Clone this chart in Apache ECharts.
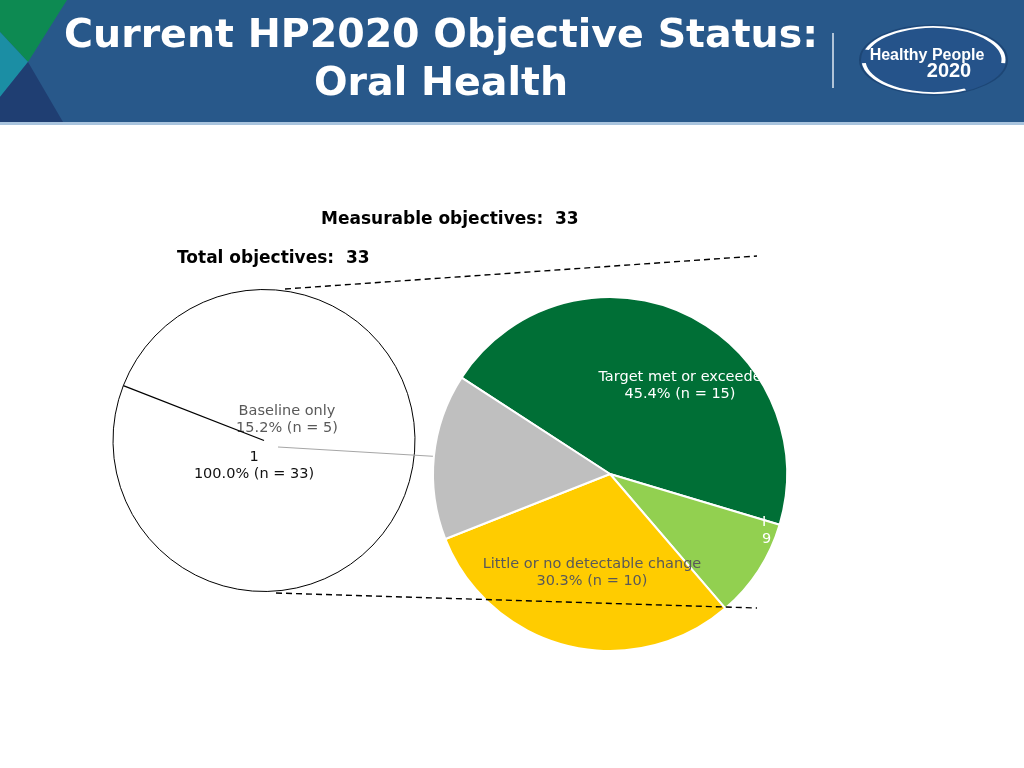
<!DOCTYPE html>
<html>
<head>
<meta charset="utf-8">
<script src="https://cdn.jsdelivr.net/npm/echarts@6/dist/echarts.min.js"></script>
<style>
html,body{margin:0;padding:0;background:#fff;}
#chart{width:1024px;height:768px;}
</style>
</head>
<body>
<div id="chart"></div>
<script>
// ---- data ----
const titleLines = ['Current HP2020 Objective Status:', 'Oral Health'];
const categories = ['Target met or exceeded', 'Improved', 'Little or no detectable change', 'Baseline only'];
const counts = [15, 3, 10, 5];
const percentLabels = ['45.4', '9.1', '30.3', '15.2'];
const totalName = '1';
const totalCount = 33;
const totalPercent = '100.0';
const measurableObjectives = 33;
const totalObjectives = 33;

// ---- styles / layout ----
const sliceColors = ['#006f36', '#92d050', '#ffcc00', '#bfbfbf'];
const labelColors = ['#ffffff', '#ffffff', '#595959', '#595959'];
const FONT = '"DejaVu Sans", Verdana, sans-serif';
const leftCenter = [264, 440.5], leftRadius = 151, leftStart = 158.7;
const rightCenter = [610, 474], rightRadius = 177, rightStart = 147;
const labelAnchors = [[680, 385.5], [762, 531], [592, 573], [287, 420]];
const labelLineEnd = [278, 447];
const totalLabelAnchor = [254, 466];

const chart = echarts.init(document.getElementById('chart'));

const rightData = categories.map((c, i) => {
  const item = {
    name: c,
    value: counts[i],
    itemStyle: { color: sliceColors[i] },
    label: { color: labelColors[i] }
  };
  if (i === 0) Object.assign(item.label, { width: 167, overflow: 'truncate', ellipsis: '' });
  if (i === 1) Object.assign(item.label, { width: 13, overflow: 'truncate', ellipsis: '' });
  if (i === 3) {
    item.label.position = 'outside';
    item.label.overflow = 'none';
    item.labelLine = { show: true, length: 156, length2: 0, lineStyle: { color: '#a6a6a6', width: 1 } };
  }
  return item;
});

const rad = leftStart * Math.PI / 180;
const radialEnd = [leftCenter[0] + leftRadius * Math.cos(rad), leftCenter[1] - leftRadius * Math.sin(rad)];

const option = {
  backgroundColor: '#ffffff',
  animation: false,
  graphic: [
    { type: 'rect', shape: { x: 0, y: 0, width: 1024, height: 122 }, style: { fill: '#28588a' }, z: 1 },
    { type: 'rect', shape: { x: 0, y: 122, width: 1024, height: 3 }, style: { fill: '#a9c4de' }, z: 1 },
    { type: 'polygon', shape: { points: [[0, 0], [67, 0], [28, 62], [0, 32]] }, style: { fill: '#0d8a52' }, z: 2 },
    { type: 'polygon', shape: { points: [[0, 32], [28, 62], [0, 97]] }, style: { fill: '#1b8ea4' }, z: 2 },
    { type: 'polygon', shape: { points: [[0, 97], [28, 62], [63, 122], [0, 122]] }, style: { fill: '#1f3e72' }, z: 2 },
    { type: 'text', z: 3, style: { text: titleLines[0], x: 441, y: 37, textAlign: 'center', textVerticalAlign: 'middle', fill: '#ffffff', font: 'bold 39.5px ' + FONT } },
    { type: 'text', z: 3, style: { text: titleLines[1], x: 441, y: 85, textAlign: 'center', textVerticalAlign: 'middle', fill: '#ffffff', font: 'bold 39.5px ' + FONT } },
    { type: 'line', z: 3, shape: { x1: 833, y1: 33, x2: 833, y2: 88 }, style: { stroke: '#dfe8f2', lineWidth: 1.5 } },
    { type: 'circle', z: 3, x: 933.5, y: 60, scaleX: 1, scaleY: 35 / 73.5, shape: { cx: 0, cy: 0, r: 73.5 }, style: { fill: '#25538a', stroke: '#1d4675', lineWidth: 2 } },
    { type: 'arc', z: 4, x: 933.5, y: 60, scaleX: 1, scaleY: 33 / 70, shape: { cx: 0, cy: 0, r: 70, startAngle: Math.PI * 1.1, endAngle: Math.PI * 2.03, clockwise: true }, style: { stroke: '#ffffff', lineWidth: 4, fill: null } },
    { type: 'arc', z: 4, x: 933.5, y: 60, scaleX: 1, scaleY: 33 / 70, shape: { cx: 0, cy: 0, r: 70, startAngle: Math.PI * 0.35, endAngle: Math.PI * 0.97, clockwise: true }, style: { stroke: '#ffffff', lineWidth: 4, fill: null } },
    { type: 'text', z: 5, style: { text: 'Healthy People', x: 927, y: 56, textAlign: 'center', textVerticalAlign: 'middle', fill: '#ffffff', font: 'bold 16px "Liberation Sans", Arial, sans-serif' } },
    { type: 'text', z: 5, style: { text: '2020', x: 949, y: 71, textAlign: 'center', textVerticalAlign: 'middle', fill: '#ffffff', font: 'bold 20px "Liberation Sans", Arial, sans-serif' } },
    { type: 'text', z: 5, style: { text: 'Measurable objectives:  ' + measurableObjectives, x: 321, y: 220, textAlign: 'left', textVerticalAlign: 'middle', fill: '#000000', font: 'bold 17px ' + FONT } },
    { type: 'text', z: 5, style: { text: 'Total objectives:  ' + totalObjectives, x: 177, y: 259, textAlign: 'left', textVerticalAlign: 'middle', fill: '#000000', font: 'bold 17px ' + FONT } },
    { type: 'line', z: 50, shape: { x1: 285, y1: 289, x2: 757, y2: 256 }, style: { stroke: '#000000', lineWidth: 1.4, lineDash: [6, 4] } },
    { type: 'line', z: 50, shape: { x1: 276, y1: 593, x2: 757, y2: 608 }, style: { stroke: '#000000', lineWidth: 1.4, lineDash: [6, 4] } },
    { type: 'line', z: 50, shape: { x1: leftCenter[0], y1: leftCenter[1], x2: radialEnd[0], y2: radialEnd[1] }, style: { stroke: '#000000', lineWidth: 1.3 } }
  ],
  series: [
    {
      type: 'pie',
      z: 1,
      center: leftCenter,
      radius: leftRadius,
      startAngle: leftStart,
      clockwise: true,
      silent: true,
      avoidLabelOverlap: false,
      data: [{ name: totalName, value: totalCount }],
      itemStyle: { color: '#ffffff', borderColor: '#000000', borderWidth: 1 },
      label: {
        position: 'inside',
        color: '#111111',
        fontFamily: FONT,
        fontSize: 14.5,
        lineHeight: 17,
        formatter: () => totalName + '\n' + totalPercent + '% (n = ' + totalCount + ')'
      },
      labelLine: { show: false },
      labelLayout: () => ({ x: totalLabelAnchor[0], y: totalLabelAnchor[1], align: 'center', verticalAlign: 'middle' }),
      emphasis: { disabled: true }
    },
    {
      type: 'pie',
      z: 5,
      center: rightCenter,
      radius: rightRadius,
      startAngle: rightStart,
      clockwise: true,
      silent: true,
      avoidLabelOverlap: false,
      data: rightData,
      itemStyle: { borderColor: '#ffffff', borderWidth: 2 },
      label: {
        position: 'inside',
        fontFamily: FONT,
        fontSize: 14.5,
        lineHeight: 17,
        formatter: (p) => categories[p.dataIndex] + '\n' + percentLabels[p.dataIndex] + '% (n = ' + counts[p.dataIndex] + ')'
      },
      labelLine: { show: false },
      labelLayout: (p) => {
        const a = labelAnchors[p.dataIndex];
        const out = { x: a[0], y: a[1], align: p.dataIndex === 1 ? 'left' : 'center', verticalAlign: 'middle' };
        if (p.dataIndex === 3) {
          const start = (p.labelLinePoints && p.labelLinePoints[0]) || [434, 457];
          out.labelLinePoints = [start, labelLineEnd];
        }
        return out;
      },
      emphasis: { disabled: true }
    }
  ]
};
chart.setOption(option);
</script>
</body>
</html>
